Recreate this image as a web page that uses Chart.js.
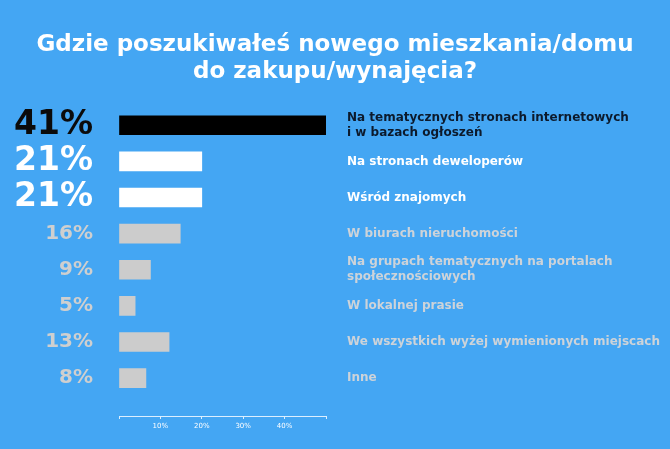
<!DOCTYPE html>
<html>
<head>
<meta charset="utf-8">
<script src="https://cdn.jsdelivr.net/npm/chart.js@4/dist/chart.umd.min.js"></script>
<style>
  html, body { margin: 0; padding: 0; background: #44a6f3; }
  canvas { display: block; }
</style>
</head>
<body>
<canvas id="surveyChart" width="670" height="449"></canvas>
<script>
// Survey answers, top to bottom
const answers = [
    ['Na tematycznych stronach internetowych', 'i w bazach ogłoszeń'],
    'Na stronach deweloperów',
    'Wśród znajomych',
    'W biurach nieruchomości',
    ['Na grupach tematycznych na portalach', 'społecznościowych'],
    'W lokalnej prasie',
    'We wszystkich wyżej wymienionych miejscach',
    'Inne'
];

// Percent labels printed left of the bars
const percentLabels = ['41%', '21%', '21%', '16%', '9%', '5%', '13%', '8%'];

// Bar lengths as read against the bottom axis (the infographic does not draw them to scale)
const barLengths = [50, 20, 20, 14.8, 7.6, 3.9, 12.1, 6.5];

// Axis tick labels
const axisTicks = [10, 20, 30, 40];

const titleLines = ['Gdzie poszukiwałeś nowego mieszkania/domu', 'do zakupu/wynajęcia?'];

const FONT = "'DejaVu Sans', sans-serif";
const barColors = ['#000000', '#ffffff', '#ffffff', '#cccccc', '#cccccc', '#cccccc', '#cccccc', '#cccccc'];
const pctColors = ['#0b0b0b', '#ffffff', '#ffffff', '#cfcfcf', '#cfcfcf', '#cfcfcf', '#cfcfcf', '#cfcfcf'];
const nameColors = ['#0c1a2c', '#ffffff', '#ffffff', '#cdd3d9', '#cdd3d9', '#cdd3d9', '#cdd3d9', '#cdd3d9'];

function rowTicks(scale) {
    scale.ticks = answers.map((a, i) => ({ value: i }));
}

// fixed axis sizes, and no extra room for tall labels
function fixSize(w, h) {
    return s => {
        if (w !== null) s.width = w;
        if (h !== null) s.height = h;
        s.paddingTop = 0;
        s.paddingBottom = 0;
        s.paddingLeft = 0;
        s.paddingRight = 0;
    };
}

// row index of a tick context (scale-level contexts have no tick)
const rowOf = c => (c && c.tick) ? c.tick.value : 0;

const ctx = document.getElementById('surveyChart');
new Chart(ctx, {
    type: 'bar',
    data: {
        datasets: [{
            data: barLengths.map((v, i) => ({ x: v, y: i })),
            backgroundColor: barColors,
            borderWidth: 0,
            barThickness: 19,
            yAxisID: 'y'
        }]
    },
    options: {
        indexAxis: 'y',
        responsive: false,
        animation: false,
        layout: { padding: 0 },
        plugins: {
            legend: { display: false },
            tooltip: { enabled: false },
            title: {
                display: true,
                text: titleLines,
                color: '#ffffff',
                font: { family: FONT, size: 23, weight: '600', lineHeight: 1.2 },
                padding: { top: 31, bottom: 21 }
            }
        },
        scales: {
            x: {
                type: 'linear',
                min: 0,
                max: 50,
                afterFit: fixSize(null, 33),
                border: { display: true, color: '#dcefff', width: 1 },
                grid: {
                    drawOnChartArea: false,
                    drawTicks: true,
                    tickLength: 3,
                    color: '#dcefff'
                },
                ticks: {
                    stepSize: 10,
                    padding: 3,
                    color: '#ffffff',
                    font: { family: FONT, size: 7 },
                    callback: v => axisTicks.includes(v) ? v + '%' : ''
                }
            },
            y: {
                type: 'linear',
                position: 'left',
                reverse: true,
                offset: false,
                min: -0.5,
                max: 8.05,
                afterBuildTicks: rowTicks,
                afterFit: fixSize(119, null),
                border: { display: false },
                grid: { display: false, drawTicks: false, offset: false },
                ticks: {
                    padding: 26,
                    autoSkip: false,
                    callback: v => percentLabels[v],
                    color: c => pctColors[rowOf(c)],
                    font: c => rowOf(c) < 3
                        ? { family: FONT, size: 33, weight: 'bold' }
                        : { family: FONT, size: 20, weight: 'bold' }
                }
            },
            names: {
                type: 'linear',
                position: 'right',
                reverse: true,
                offset: false,
                min: -0.5,
                max: 8.05,
                afterBuildTicks: rowTicks,
                afterFit: fixSize(344, null),
                border: { display: false },
                grid: { display: false, drawTicks: false, offset: false },
                ticks: {
                    padding: 21,
                    autoSkip: false,
                    crossAlign: 'near',
                    callback: v => answers[v],
                    color: c => nameColors[rowOf(c)],
                    font: { family: FONT, size: 12, weight: '600', lineHeight: 1.25 }
                }
            }
        }
    }
});
</script>
</body>
</html>
